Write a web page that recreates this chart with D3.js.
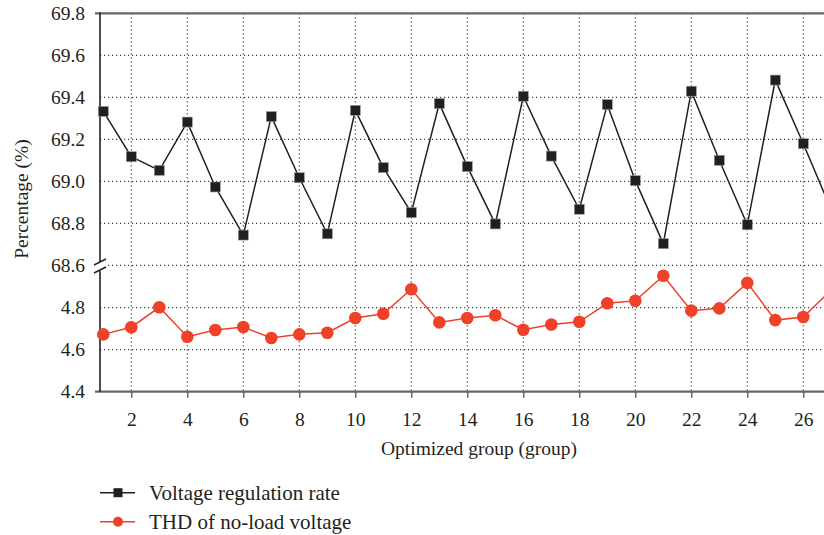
<!DOCTYPE html>
<html>
<head>
<meta charset="utf-8">
<script src="https://cdn.jsdelivr.net/npm/d3@7"></script>
<style>
  body { margin: 0; background: #fff; }
  svg text { font-family: "Liberation Serif", "DejaVu Serif", serif; fill: #231f20; }
</style>
</head>
<body>
<svg id="chart" width="824" height="535"></svg>
<script>
// optimized groups 1..27 (27 is cut off at the right edge)
var groups = d3.range(1, 28);
var voltageRegulation = [69.333, 69.117, 69.052, 69.282, 68.973, 68.744, 69.308, 69.017, 68.750,
    69.338, 69.065, 68.851, 69.370, 69.070, 68.797, 69.405, 69.120, 68.867, 69.365, 69.003,
    68.703, 69.429, 69.100, 68.793, 69.482, 69.179, 68.864];
var thdNoLoad = [4.673, 4.707, 4.802, 4.662, 4.694, 4.708, 4.656, 4.673, 4.681,
    4.751, 4.771, 4.888, 4.730, 4.751, 4.764, 4.695, 4.720, 4.733, 4.821, 4.833,
    4.952, 4.786, 4.797, 4.918, 4.741, 4.756, 4.884];
var xTicks = [2, 4, 6, 8, 10, 12, 14, 16, 18, 20, 22, 24, 26];
var yTopTicks = [68.6, 68.8, 69.0, 69.2, 69.4, 69.6, 69.8];
var yBottomTicks = [4.4, 4.6, 4.8];
var seriesNames = ["Voltage regulation rate", "THD of no-load voltage"];

(function draw() {
    var svg = d3.select("#chart"),
        width = +svg.attr("width"),
        left = 100,
        top = 13.3,
        bottom = 391.7,
        red = "#ee4128",
        black = "#231f20";

    var x = d3.scaleLinear().domain([1, 27]).range([103.3, 831.3]);
    var yTop = d3.scaleLinear().domain([68.6, 69.8]).range([265.3, top]);
    var yBot = d3.scaleLinear().domain([4.4, 4.8]).range([bottom, 307.7]);

    // vertical grid
    svg.append("g")
        .selectAll("line")
        .data(xTicks)
        .enter().append("line")
        .attr("x1", function (d) { return x(d); })
        .attr("x2", function (d) { return x(d); })
        .attr("y1", top)
        .attr("y2", bottom)
        .attr("stroke", "#444")
        .attr("stroke-width", 1.2)
        .attr("stroke-dasharray", "1.2,2.8");

    // horizontal grid
    var hgrid = yTopTicks.slice(0, -1).map(function (d) { return yTop(d); })
        .concat(yBottomTicks.slice(1).map(function (d) { return yBot(d); }));
    svg.append("g")
        .selectAll("line")
        .data(hgrid)
        .enter().append("line")
        .attr("x1", left)
        .attr("x2", width)
        .attr("y1", function (d) { return d; })
        .attr("y2", function (d) { return d; })
        .attr("stroke", "#444")
        .attr("stroke-width", 1.2)
        .attr("stroke-dasharray", "1.2,2.8");

    // top frame and bottom axis line
    svg.append("line")
        .attr("x1", left - 5).attr("x2", width)
        .attr("y1", top).attr("y2", top)
        .attr("stroke", "#666").attr("stroke-width", 2.2);

    var xAxis = svg.append("g")
        .attr("transform", "translate(0," + bottom + ")")
        .call(d3.axisBottom(x).tickValues(xTicks).tickSize(6).tickSizeOuter(0).tickPadding(14));
    xAxis.select(".domain").remove();
    xAxis.selectAll(".tick line").attr("stroke", "#444").attr("stroke-width", 1.2);
    xAxis.selectAll("text").style("font-size", "19.5px").attr("fill", black);
    svg.append("line")
        .attr("x1", left - 5).attr("x2", width)
        .attr("y1", bottom).attr("y2", bottom)
        .attr("stroke", "#666").attr("stroke-width", 2.2);

    // y axes labels
    var yA = svg.append("g")
        .attr("transform", "translate(" + left + ",0)")
        .call(d3.axisLeft(yTop).tickValues(yTopTicks).tickFormat(d3.format(".1f")).tickSize(0).tickPadding(15));
    var yB = svg.append("g")
        .attr("transform", "translate(" + left + ",0)")
        .call(d3.axisLeft(yBot).tickValues(yBottomTicks).tickFormat(d3.format(".1f")).tickSize(0).tickPadding(15));
    [yA, yB].forEach(function (g) {
        g.select(".domain").remove();
        g.selectAll("text").style("font-size", "19.5px").attr("fill", black);
    });

    // left axis with break
    svg.append("line")
        .attr("x1", left).attr("x2", left)
        .attr("y1", top - 1).attr("y2", 262)
        .attr("stroke", black).attr("stroke-width", 1.6);
    svg.append("line")
        .attr("x1", left).attr("x2", left)
        .attr("y1", 271).attr("y2", bottom)
        .attr("stroke", black).attr("stroke-width", 1.6);
    svg.append("rect")
        .attr("x", left - 6).attr("y", 262.5).attr("width", 12).attr("height", 8)
        .attr("fill", "#fff");
    [262, 270].forEach(function (yy) {
        svg.append("line")
            .attr("x1", left - 6).attr("x2", left + 6)
            .attr("y1", yy + 3).attr("y2", yy - 3)
            .attr("stroke", black).attr("stroke-width", 1.4);
    });

    // series lines
    var lineTop = d3.line()
        .x(function (d, i) { return x(groups[i]); })
        .y(function (d) { return yTop(d); });
    var lineBot = d3.line()
        .x(function (d, i) { return x(groups[i]); })
        .y(function (d) { return yBot(d); });

    svg.append("path")
        .datum(voltageRegulation)
        .attr("d", lineTop)
        .attr("fill", "none")
        .attr("stroke", black)
        .attr("stroke-width", 1.5);

    svg.selectAll(".sq")
        .data(voltageRegulation)
        .enter().append("rect")
        .attr("class", "sq")
        .attr("x", function (d, i) { return x(groups[i]) - 5; })
        .attr("y", function (d) { return yTop(d) - 5; })
        .attr("width", 10)
        .attr("height", 10)
        .attr("fill", black)
        .attr("stroke", "#999")
        .attr("stroke-width", 0.6);

    svg.append("path")
        .datum(thdNoLoad)
        .attr("d", lineBot)
        .attr("fill", "none")
        .attr("stroke", red)
        .attr("stroke-width", 1.5);

    svg.selectAll(".dot")
        .data(thdNoLoad)
        .enter().append("circle")
        .attr("class", "dot")
        .attr("cx", function (d, i) { return x(groups[i]); })
        .attr("cy", function (d) { return yBot(d); })
        .attr("r", 6.3)
        .attr("fill", red);

    // axis titles
    svg.append("text")
        .attr("x", 479)
        .attr("y", 455)
        .attr("text-anchor", "middle")
        .style("font-size", "19.5px")
        .text("Optimized group (group)");

    svg.append("text")
        .attr("transform", "translate(28,199) rotate(-90)")
        .attr("text-anchor", "middle")
        .style("font-size", "19.5px")
        .text("Percentage (%)");

    // legend
    var legend = svg.append("g");
    var ly = [492.7, 521.7];
    legend.append("line")
        .attr("x1", 100).attr("x2", 135).attr("y1", ly[0]).attr("y2", ly[0])
        .attr("stroke", black).attr("stroke-width", 1.5);
    legend.append("rect")
        .attr("x", 113.5).attr("y", ly[0] - 4.5).attr("width", 9).attr("height", 9)
        .attr("fill", black);
    legend.append("line")
        .attr("x1", 100).attr("x2", 135).attr("y1", ly[1]).attr("y2", ly[1])
        .attr("stroke", red).attr("stroke-width", 1.5);
    legend.append("circle")
        .attr("cx", 118).attr("cy", ly[1]).attr("r", 5)
        .attr("fill", red);
    legend.selectAll(".ltext")
        .data(seriesNames)
        .enter().append("text")
        .attr("class", "ltext")
        .attr("x", 149)
        .attr("y", function (d, i) { return ly[i]; })
        .attr("dy", "0.33em")
        .style("font-size", "21px")
        .text(function (d) { return d; });
}());
</script>
</body>
</html>
